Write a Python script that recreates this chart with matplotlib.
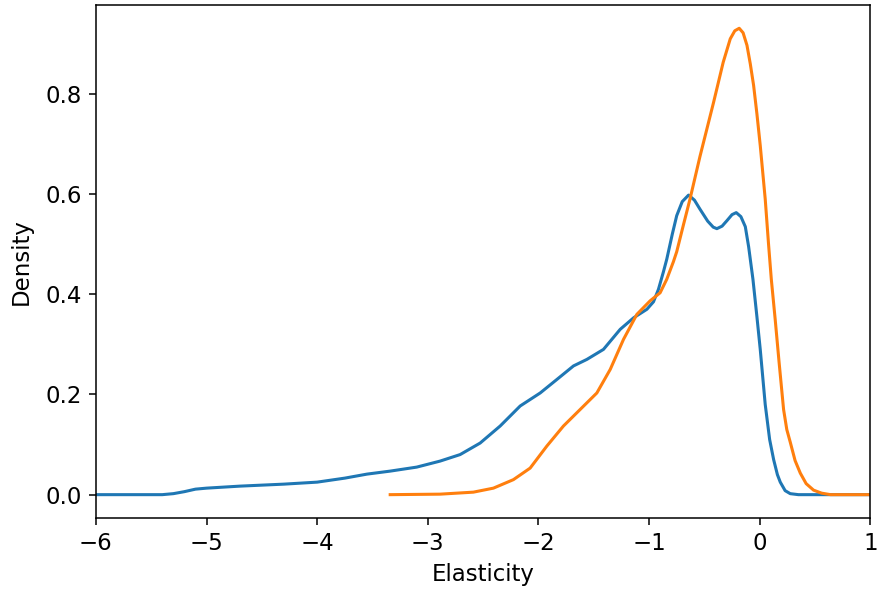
import matplotlib
matplotlib.use('Agg')
import matplotlib.pyplot as plt

# blue curve
blue_x = [-6.0, -5.6, -5.4, -5.3, -5.2, -5.1, -5.0, -4.7, -4.3, -4.0,
          -3.75, -3.55, -3.34, -3.1, -2.889, -2.708, -2.527, -2.346, -2.165,
          -1.984, -1.833, -1.683, -1.562, -1.412, -1.261, -1.14, -1.02,
          -0.96, -0.915, -0.87, -0.84, -0.79, -0.75, -0.70, -0.643, -0.59,
          -0.54, -0.47, -0.42, -0.387, -0.34, -0.296, -0.25, -0.212, -0.17,
          -0.13, -0.1, -0.061, -0.025, 0.005, 0.05, 0.09, 0.126, 0.16,
          0.186, 0.23, 0.276, 0.35, 1.0]
blue_y = [0.0, 0.0, 0.0, 0.002, 0.006, 0.011, 0.013, 0.017, 0.021, 0.025,
          0.033, 0.041, 0.047, 0.055, 0.067, 0.08, 0.103, 0.137, 0.177,
          0.203, 0.23, 0.257, 0.27, 0.29, 0.33, 0.353, 0.37,
          0.385, 0.41, 0.445, 0.47, 0.52, 0.557, 0.585, 0.598, 0.588,
          0.57, 0.546, 0.534, 0.531, 0.536, 0.547, 0.559, 0.563, 0.555,
          0.535, 0.495, 0.43, 0.355, 0.29, 0.18, 0.11, 0.07, 0.04,
          0.025, 0.008, 0.002, 0.0, 0.0]

# orange curve
orange_x = [-3.34, -2.889, -2.588, -2.407, -2.226, -2.075, -1.924, -1.774,
            -1.623, -1.472, -1.351, -1.231, -1.11, -0.99, -0.90, -0.84,
            -0.78, -0.75, -0.69, -0.63, -0.54, -0.417, -0.33, -0.266,
            -0.225, -0.185, -0.15, -0.115, -0.085, -0.055, -0.025, 0.005,
            0.05, 0.08, 0.105, 0.14, 0.175, 0.216, 0.245, 0.276, 0.32,
            0.367, 0.42, 0.487, 0.56, 0.64, 1.0]
orange_y = [0.0, 0.001, 0.005, 0.013, 0.03, 0.053, 0.097, 0.137,
            0.17, 0.203, 0.25, 0.31, 0.36, 0.387, 0.403, 0.43,
            0.465, 0.485, 0.538, 0.59, 0.675, 0.783, 0.863, 0.91,
            0.926, 0.931, 0.922, 0.897, 0.86, 0.817, 0.76, 0.697,
            0.59, 0.50, 0.43, 0.35, 0.265, 0.17, 0.13, 0.105, 0.068,
            0.043, 0.022, 0.009, 0.003, 0.0, 0.0]

fig = plt.figure(figsize=(8.8, 5.92), dpi=100)
ax = fig.add_axes([0.109, 0.125, 0.880, 0.867])
ax.plot(blue_x, blue_y, color='#1f77b4', linewidth=2.2)
ax.plot(orange_x, orange_y, color='#ff7f0e', linewidth=2.2)

ax.set_xlim(-6, 1)
ax.set_ylim(-0.0466, 0.978)
ax.set_yticks([0.0, 0.2, 0.4, 0.6, 0.8])
ax.tick_params(labelsize=16.5, length=5, width=1.1, pad=5)
for s in ax.spines.values():
    s.set_linewidth(1.1)
ax.set_xlabel('Elasticity', fontsize=16.5, labelpad=6)
ax.set_ylabel('Density', fontsize=16.5, labelpad=9)

fig.savefig('out.png', dpi=100)
